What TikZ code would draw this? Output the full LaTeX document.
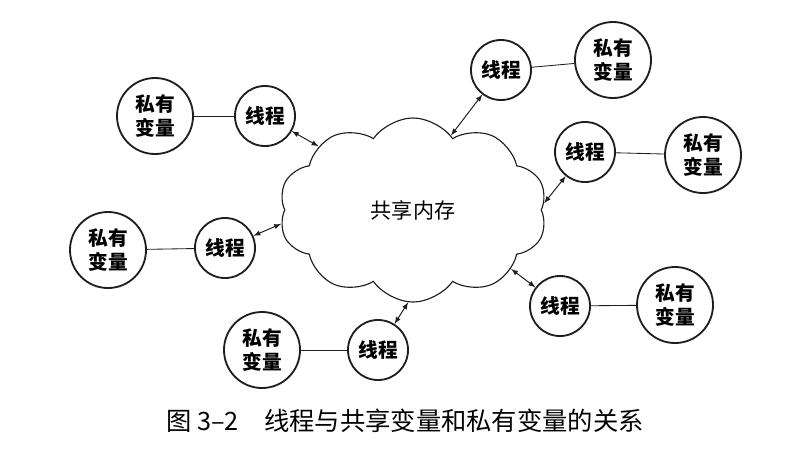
\documentclass[tikz,border=0pt]{standalone}
\usepackage{fontspec}
\setmainfont{Noto Sans CJK SC}
\usepackage{tikz}
\usetikzlibrary{shapes.symbols, arrows, positioning}
\definecolor{inkgray}{RGB}{30, 30, 30}
\tikzset{
    thread/.style={circle, draw=inkgray, line width=1.3pt, minimum size=1.5cm, inner sep=0pt, font=\fontsize{14}{16}\selectfont\bfseries},
    privvar/.style={circle, draw=inkgray, line width=1.3pt, minimum size=1.9cm, inner sep=0pt, align=center, font=\fontsize{14}{17}\selectfont\bfseries},
    link/.style={draw=inkgray, line width=0.6pt},
    share/.style={draw=inkgray, line width=0.7pt, <->, >=latex}
}

\begin{document}
\begin{tikzpicture}[x=0.025cm, y=-0.025cm]
        \useasboundingbox (0,0) rectangle (794,450);
        \node[cloud, draw=inkgray, line width=0.8pt, cloud puffs=10, cloud puff arc=110, aspect=1.5, minimum width=6.7cm, minimum height=4.6cm, font=\fontsize{15}{17}\selectfont] (mem) at (413,210) {共享内存};

        \node[thread] (t1) at (501,70) {线程};
        \node[thread] (t2) at (265,116) {线程};
        \node[thread] (t3) at (585,152) {线程};
        \node[thread] (t4) at (225,248) {线程};
        \node[thread] (t5) at (560,306) {线程};
        \node[thread] (t6) at (378,350) {线程};

        \node[privvar] (p1) at (613,60) {私有\\变量};
        \node[privvar] (p2) at (155,116) {私有\\变量};
        \node[privvar] (p3) at (703,155) {私有\\变量};
        \node[privvar] (p4) at (108,250) {私有\\变量};
        \node[privvar] (p5) at (675,305) {私有\\变量};
        \node[privvar] (p6) at (262,350) {私有\\变量};

        \foreach \i in {1,...,6} {
            \draw[link] (t\i) -- (p\i);
        }

        \draw[share] (t1) -- (mem.63);
        \draw[share] (t2) -- (mem.146);
        \draw[share] (t3) -- (mem.3);
        \draw[share] (t4) -- (mem.186);
        \draw[share] (t5) -- (mem.-31);
        \draw[share] (t6) -- (mem.-93);

        \node[font=\fontsize{18}{20}\selectfont] (cap) at (405,421) {图 3--2\quad 线程与共享变量和私有变量的关系};
    \end{tikzpicture}
\end{document}
